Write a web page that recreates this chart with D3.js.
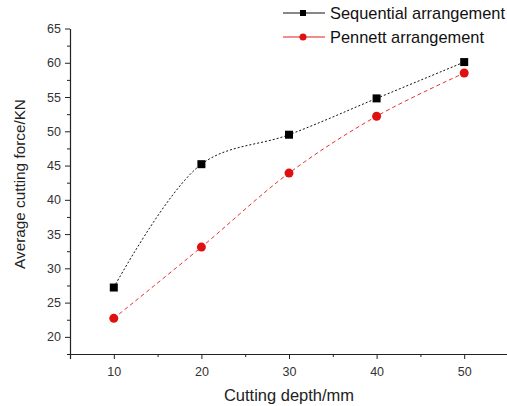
<!DOCTYPE html>
<html>
<head>
<meta charset="utf-8">
<script src="https://cdn.jsdelivr.net/npm/d3@7"></script>
<style>
	body { margin: 0; background: #fff; }
	svg { display: block; font-family: "Liberation Sans", Arial, sans-serif; }
</style>
</head>
<body>
<div id="wrapper"></div>
<script>
// data
const depths = [10, 20, 30, 40, 50];
const sequentialForce = [27.2, 45.2, 49.5, 54.8, 60.1];
const pennettForce = [22.7, 33.1, 43.9, 52.2, 58.5];
const xTicks = [10, 20, 30, 40, 50];
const yTicks = [20, 25, 30, 35, 40, 45, 50, 55, 60, 65];
const seriesNames = ["Sequential arrangement", "Pennett arrangement"];

function drawChart(){

	const width = 507, height = 406;

	const wrapper = d3.select("#wrapper")
		.append("svg")
		.attr("width", width)
		.attr("height", height);

	// scales
	const xScale = d3.scaleLinear().domain([5, 55]).range([70, 508]);
	const yScale = d3.scaleLinear().domain([17.5, 65]).range([354, 28.5]);

	// axes
	wrapper.append("g")
		.attr("transform", "translate(0,354)")
		.call(d3.axisBottom(xScale).tickValues(xTicks).tickSize(5).tickPadding(8).tickFormat(d3.format("d")));

	wrapper.append("g")
		.attr("transform", "translate(0,354)")
		.call(d3.axisBottom(xScale).tickValues([5, 15, 25, 35, 45, 55]).tickSize(3).tickFormat(""))
		.select(".domain").remove();

	wrapper.append("g")
		.attr("transform", "translate(70,0)")
		.call(d3.axisLeft(yScale).tickValues(yTicks).tickSize(5).tickPadding(4).tickSizeOuter(0));

	wrapper.append("g")
		.attr("transform", "translate(70,0)")
		.call(d3.axisLeft(yScale).tickValues(d3.range(17.5, 65, 5)).tickSize(3).tickFormat(""))
		.select(".domain").remove();

	wrapper.selectAll(".domain").attr("stroke", "#222").attr("stroke-width", 1.2);
	wrapper.selectAll(".tick line").attr("stroke", "#222");
	wrapper.selectAll(".tick text").attr("fill", "#333").style("font-size", "12.5px");

	// axis labels
	wrapper.append("text")
		.attr("x", 289)
		.attr("y", 401)
		.attr("text-anchor", "middle")
		.attr("fill", "#222")
		.style("font-size", "16.5px")
		.text("Cutting depth/mm");

	wrapper.append("text")
		.attr("transform", "translate(25,184) rotate(-90)")
		.attr("text-anchor", "middle")
		.attr("fill", "#222")
		.style("font-size", "15.3px")
		.text("Average cutting force/KN");

	// lines
	const seqData = depths.map((d, i) => ({x: d, y: sequentialForce[i]}));
	const penData = depths.map((d, i) => ({x: d, y: pennettForce[i]}));

	const lineGen = d3.line()
		.x(d => xScale(d.x))
		.y(d => yScale(d.y))
		.curve(d3.curveCatmullRom.alpha(0.5));

	wrapper.append("path")
		.datum(seqData)
		.attr("d", lineGen)
		.attr("fill", "none")
		.attr("stroke", "#111")
		.attr("stroke-width", 1)
		.attr("stroke-dasharray", "2,2");

	wrapper.append("path")
		.datum(penData)
		.attr("d", lineGen)
		.attr("fill", "none")
		.attr("stroke", "#e21a1a")
		.attr("stroke-width", 0.9)
		.attr("stroke-dasharray", "4,3");

	// markers
	wrapper.append("g").selectAll("rect")
		.data(seqData)
		.join("rect")
		.attr("x", d => xScale(d.x) - 4)
		.attr("y", d => yScale(d.y) - 4)
		.attr("width", 8)
		.attr("height", 8)
		.attr("fill", "#000");

	wrapper.append("g").selectAll("circle")
		.data(penData)
		.join("circle")
		.attr("cx", d => xScale(d.x))
		.attr("cy", d => yScale(d.y))
		.attr("r", 4.5)
		.attr("fill", "#e01010");

	// legend
	const legend = wrapper.append("g");
	const legendColors = ["#111", "#e21a1a"];

	seriesNames.forEach((name, i) => {
		const y = 13 + i * 24;
		legend.append("line")
			.attr("x1", 283).attr("x2", 325)
			.attr("y1", y).attr("y2", y)
			.attr("stroke", legendColors[i])
			.attr("stroke-width", 1);
		if (i === 0) {
			legend.append("rect")
				.attr("x", 300).attr("y", y - 3)
				.attr("width", 6).attr("height", 6)
				.attr("fill", "#000");
		} else {
			legend.append("circle")
				.attr("cx", 303).attr("cy", y)
				.attr("r", 3.5)
				.attr("fill", "#e01010");
		}
		legend.append("text")
			.attr("x", 330)
			.attr("y", y + 6)
			.attr("fill", "#111")
			.style("font-size", "16.4px")
			.text(name);
	});
}

drawChart();
</script>
</body>
</html>
